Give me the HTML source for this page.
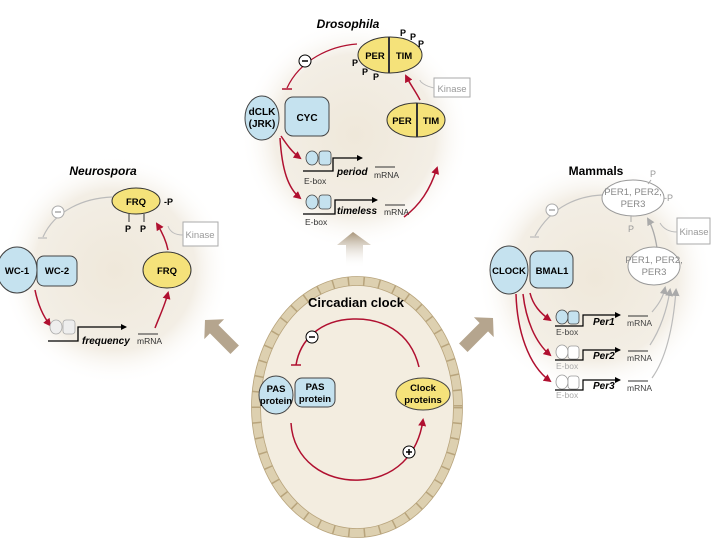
<!DOCTYPE html>
<html><head><meta charset="utf-8"><style>
html,body{margin:0;padding:0;background:#fff}
svg{display:block}
text{font-family:"Liberation Sans",Arial,sans-serif}
</style></head><body>
<svg width="720" height="540" viewBox="0 0 720 540" xmlns="http://www.w3.org/2000/svg">
<defs>
<radialGradient id="glow"><stop offset="0" stop-color="#efe8da"/><stop offset="0.7" stop-color="#f3eee5"/><stop offset="1" stop-color="#ffffff" stop-opacity="0"/></radialGradient>
<linearGradient id="au" x1="0" y1="0" x2="0" y2="1"><stop offset="0" stop-color="#a8957a"/><stop offset="1" stop-color="#fff" stop-opacity="0"/></linearGradient>
<marker id="rh" markerWidth="8" markerHeight="8" refX="6" refY="4" orient="auto" markerUnits="userSpaceOnUse"><path d="M0,0 L8,4 L0,8 z" fill="#b01030"/></marker>
<marker id="gh" markerWidth="8" markerHeight="8" refX="6" refY="4" orient="auto" markerUnits="userSpaceOnUse"><path d="M0,0 L8,4 L0,8 z" fill="#aaa"/></marker>
<marker id="kh" markerWidth="6" markerHeight="6" refX="5" refY="3" orient="auto" markerUnits="userSpaceOnUse"><path d="M0,0 L6,3 L0,6 z" fill="#000"/></marker>
</defs>

<circle cx="355" cy="135" r="115" fill="url(#glow)"/>
<circle cx="115" cy="270" r="115" fill="url(#glow)"/>
<circle cx="595" cy="278" r="118" fill="url(#glow)"/>

<path d="M346,268 L346,245 L337,245 L353,232 L371,245 L363,245 L363,268 z" fill="url(#au)"/>
<g transform="translate(205,320) rotate(-45)"><path d="M0,0 L14,13 L6,13 L6,42 L-6,42 L-6,13 L-14,13 z" fill="#a8957a" opacity="0.85"/></g>
<g transform="translate(493,318) rotate(45)"><path d="M0,0 L14,13 L6,13 L6,42 L-6,42 L-6,13 L-14,13 z" fill="#a8957a" opacity="0.85"/></g>

<ellipse cx="357" cy="407" rx="101" ry="126" fill="#f3ede0" stroke="#ddd0b0" stroke-width="9"/>
<ellipse cx="357" cy="407" rx="101" ry="126" fill="none" stroke="#b8a47c" stroke-width="9" stroke-dasharray="1.5 14"/>
<ellipse cx="357" cy="407" rx="96.5" ry="121.5" fill="none" stroke="#b8a47c" stroke-width="0.8"/>
<ellipse cx="357" cy="407" rx="105.5" ry="130.5" fill="none" stroke="#b8a47c" stroke-width="0.8"/>
<text x="356" y="307" font-size="13" font-weight="bold" text-anchor="middle">Circadian clock</text>
<path d="M419,367 C410,330 380,318 353,319 C320,320 300,340 296,365" fill="none" stroke="#b01030" stroke-width="1.5"/>
<line x1="291" y1="365" x2="301" y2="365" stroke="#b01030" stroke-width="1.5"/>
<circle cx="312" cy="337" r="6" fill="#fff" stroke="#000"/><line x1="309" y1="337" x2="315" y2="337" stroke="#000" stroke-width="1.5"/>
<path d="M291,423 C293,460 325,482 360,480 C395,478 418,455 423,420" fill="none" stroke="#b01030" stroke-width="1.5" marker-end="url(#rh)"/>
<circle cx="409" cy="452" r="6" fill="#fff" stroke="#000"/><path d="M406,452 h6 M409,449 v6" stroke="#000" stroke-width="1.5"/>
<rect x="295" y="378" width="40" height="29" rx="7" fill="#c5e2ef" stroke="#444"/>
<ellipse cx="276" cy="395" rx="17" ry="19" fill="#c5e2ef" stroke="#444"/>
<text x="276" y="392" font-size="9.5" font-weight="bold" text-anchor="middle">PAS</text><text x="276" y="404" font-size="9.5" font-weight="bold" text-anchor="middle">protein</text>
<text x="315" y="390" font-size="9.5" font-weight="bold" text-anchor="middle">PAS</text><text x="315" y="402" font-size="9.5" font-weight="bold" text-anchor="middle">protein</text>
<ellipse cx="423" cy="394" rx="27" ry="16" fill="#f5e27a" stroke="#444"/>
<text x="423" y="391" font-size="9.5" font-weight="bold" text-anchor="middle">Clock</text><text x="423" y="403" font-size="9.5" font-weight="bold" text-anchor="middle">proteins</text>

<text x="348" y="28" font-size="12" font-weight="bold" font-style="italic" text-anchor="middle">Drosophila</text>
<path d="M357,44 C330,46 300,60 287,88" fill="none" stroke="#b01030" stroke-width="1.3"/>
<line x1="282" y1="89" x2="292" y2="89" stroke="#b01030" stroke-width="1.5"/>
<circle cx="305" cy="61" r="6" fill="#fff" stroke="#000"/><line x1="302" y1="61" x2="308" y2="61" stroke="#000" stroke-width="1.5"/>
<ellipse cx="390" cy="55" rx="32" ry="18" fill="#f5e27a" stroke="#333"/><line x1="389" y1="37" x2="389" y2="73" stroke="#333" stroke-width="2"/>
<text x="375" y="59" font-size="9.5" font-weight="bold" text-anchor="middle">PER</text><text x="404" y="59" font-size="9.5" font-weight="bold" text-anchor="middle">TIM</text>
<g font-size="9" font-weight="bold"><text x="400" y="36">P</text><text x="410" y="40">P</text><text x="418" y="47">P</text><text x="352" y="66">P</text><text x="362" y="75">P</text><text x="373" y="80">P</text></g>
<rect x="434" y="78" width="36" height="19" fill="#fff" stroke="#aaa"/><text x="452" y="92" font-size="9.5" fill="#999" text-anchor="middle">Kinase</text>
<path d="M434,88 C425,86 420,82 420,80" fill="none" stroke="#bbb"/>
<path d="M420,100 C416,92 410,84 406,76" fill="none" stroke="#b01030" stroke-width="1.5" marker-end="url(#rh)"/>
<rect x="285" y="97" width="44" height="39" rx="8" fill="#c5e2ef" stroke="#444"/>
<ellipse cx="262" cy="118" rx="17" ry="22" fill="#c5e2ef" stroke="#444"/>
<text x="262" y="115" font-size="10" font-weight="bold" text-anchor="middle">dCLK</text><text x="262" y="127" font-size="10" font-weight="bold" text-anchor="middle">(JRK)</text>
<text x="307" y="121" font-size="10" font-weight="bold" text-anchor="middle">CYC</text>
<ellipse cx="416" cy="120" rx="29" ry="17" fill="#f5e27a" stroke="#333"/><line x1="417" y1="103" x2="417" y2="137" stroke="#333" stroke-width="2"/>
<text x="402" y="124" font-size="9.5" font-weight="bold" text-anchor="middle">PER</text><text x="431" y="124" font-size="9.5" font-weight="bold" text-anchor="middle">TIM</text>
<path d="M281,136 C287,145 292,152 300,158" fill="none" stroke="#b01030" stroke-width="1.5" marker-end="url(#rh)"/>
<path d="M280,138 C282,170 288,188 300,198" fill="none" stroke="#b01030" stroke-width="1.5" marker-end="url(#rh)"/>
<path d="M404,217 C420,205 430,190 437,168" fill="none" stroke="#b01030" stroke-width="1.5" marker-end="url(#rh)"/>
<g fill="#c5e2ef" stroke="#444" stroke-width="0.8"><ellipse cx="312" cy="158" rx="6" ry="7"/><rect x="319" y="151" width="12" height="14" rx="3"/>
<ellipse cx="312" cy="202" rx="6" ry="7"/><rect x="319" y="195" width="12" height="14" rx="3"/></g>
<path d="M303,171 H333 V158 H362" fill="none" stroke="#000" stroke-width="1.3" marker-end="url(#kh)"/>
<path d="M303,214 H335 V200 H377" fill="none" stroke="#000" stroke-width="1.3" marker-end="url(#kh)"/>
<text x="337" y="175" font-size="10" font-weight="bold" font-style="italic">period</text>
<text x="337" y="214" font-size="10" font-weight="bold" font-style="italic">timeless</text>
<g font-size="8.5" fill="#333"><text x="374" y="178">mRNA</text><text x="384" y="215">mRNA</text><text x="304" y="184">E-box</text><text x="305" y="225">E-box</text></g>
<g stroke="#333"><line x1="375" y1="167" x2="395" y2="167"/><line x1="385" y1="205" x2="405" y2="205"/></g>

<text x="103" y="175" font-size="12" font-weight="bold" font-style="italic" text-anchor="middle">Neurospora</text>
<path d="M112,197 C85,198 55,210 43,237" fill="none" stroke="#bbb" stroke-width="1.2"/>
<line x1="38" y1="238" x2="47" y2="238" stroke="#bbb" stroke-width="1.2"/>
<circle cx="58" cy="212" r="6" fill="#fff" stroke="#aaa"/><line x1="55" y1="212" x2="61" y2="212" stroke="#aaa" stroke-width="1.5"/>
<ellipse cx="136" cy="201" rx="24" ry="13" fill="#f5e27a" stroke="#333"/><text x="136" y="205" font-size="9.5" font-weight="bold" text-anchor="middle">FRQ</text>
<g font-size="9" font-weight="bold"><text x="164" y="205">-P</text><text x="125" y="232">P</text><text x="140" y="232">P</text></g>
<g stroke="#333"><line x1="129" y1="214" x2="129" y2="222"/><line x1="144" y1="214" x2="144" y2="222"/></g>
<rect x="183" y="222" width="35" height="24" fill="#fff" stroke="#aaa"/><text x="200" y="238" font-size="9.5" fill="#999" text-anchor="middle">Kinase</text>
<path d="M183,235 C175,235 170,232 168,226" fill="none" stroke="#bbb"/>
<path d="M168,250 C166,240 162,232 157,224" fill="none" stroke="#b01030" stroke-width="1.5" marker-end="url(#rh)"/>
<rect x="37" y="256" width="40" height="30" rx="7" fill="#c5e2ef" stroke="#444"/>
<ellipse cx="17" cy="270" rx="20" ry="23" fill="#c5e2ef" stroke="#444"/>
<text x="17" y="274" font-size="9.5" font-weight="bold" text-anchor="middle">WC-1</text><text x="57" y="274" font-size="9.5" font-weight="bold" text-anchor="middle">WC-2</text>
<ellipse cx="167" cy="270" rx="24" ry="18" fill="#f5e27a" stroke="#333"/><text x="167" y="274" font-size="9.5" font-weight="bold" text-anchor="middle">FRQ</text>
<path d="M35,290 C38,305 43,316 50,325" fill="none" stroke="#b01030" stroke-width="1.5" marker-end="url(#rh)"/>
<path d="M155,328 C160,315 165,305 168,293" fill="none" stroke="#b01030" stroke-width="1.5" marker-end="url(#rh)"/>
<g fill="#eee" stroke="#aaa" stroke-width="0.8"><ellipse cx="56" cy="327" rx="6" ry="7"/><rect x="63" y="320" width="12" height="14" rx="3"/></g>
<path d="M48,341 H78 V327 H126" fill="none" stroke="#000" stroke-width="1.3" marker-end="url(#kh)"/>
<text x="82" y="344" font-size="10" font-weight="bold" font-style="italic">frequency</text>
<text x="137" y="344" font-size="8.5" fill="#333">mRNA</text><line x1="138" y1="334" x2="158" y2="334" stroke="#333"/>

<text x="596" y="175" font-size="12" font-weight="bold" text-anchor="middle">Mammals</text>
<path d="M602,195 C580,196 552,205 535,236" fill="none" stroke="#bbb" stroke-width="1.2"/>
<line x1="530" y1="237" x2="539" y2="237" stroke="#bbb" stroke-width="1.2"/>
<circle cx="552" cy="210" r="6" fill="#fff" stroke="#aaa"/><line x1="549" y1="210" x2="555" y2="210" stroke="#aaa" stroke-width="1.5"/>
<ellipse cx="633" cy="198" rx="31" ry="18" fill="#fff" stroke="#999"/>
<text x="633" y="195" font-size="9.5" fill="#888" text-anchor="middle">PER1, PER2,</text><text x="633" y="207" font-size="9.5" fill="#888" text-anchor="middle">PER3</text>
<g font-size="9" fill="#999"><text x="650" y="177">P</text><text x="664" y="201">-P</text><text x="628" y="232">P</text></g>
<g stroke="#aaa"><line x1="651" y1="180" x2="648" y2="184"/><line x1="631" y1="216" x2="631" y2="222"/></g>
<rect x="677" y="218" width="33" height="26" fill="#fff" stroke="#aaa"/><text x="694" y="235" font-size="9.5" fill="#999" text-anchor="middle">Kinase</text>
<path d="M677,232 C668,232 663,228 660,223" fill="none" stroke="#bbb"/>
<path d="M657,248 C655,235 652,226 648,219" fill="none" stroke="#aaa" stroke-width="1.3" marker-end="url(#gh)"/>
<rect x="530" y="251" width="43" height="37" rx="8" fill="#c5e2ef" stroke="#444"/>
<ellipse cx="509" cy="270" rx="19" ry="24" fill="#c5e2ef" stroke="#444"/>
<text x="509" y="274" font-size="9.5" font-weight="bold" text-anchor="middle">CLOCK</text><text x="552" y="274" font-size="9.5" font-weight="bold" text-anchor="middle">BMAL1</text>
<ellipse cx="654" cy="266" rx="26" ry="19" fill="#fff" stroke="#999"/>
<text x="654" y="263" font-size="9.5" fill="#888" text-anchor="middle">PER1, PER2,</text><text x="654" y="275" font-size="9.5" fill="#888" text-anchor="middle">PER3</text>
<path d="M530,293 C533,305 540,313 550,320" fill="none" stroke="#b01030" stroke-width="1.5" marker-end="url(#rh)"/>
<path d="M523,294 C526,320 535,342 550,355" fill="none" stroke="#b01030" stroke-width="1.5" marker-end="url(#rh)"/>
<path d="M516,294 C517,330 528,365 550,381" fill="none" stroke="#b01030" stroke-width="1.5" marker-end="url(#rh)"/>
<g fill="#c5e2ef" stroke="#444" stroke-width="0.8"><ellipse cx="562" cy="317" rx="6" ry="7"/><rect x="568" y="311" width="11" height="13" rx="3"/></g>
<g fill="#fff" stroke="#999" stroke-width="0.8"><ellipse cx="562" cy="352" rx="6" ry="7"/><rect x="568" y="346" width="11" height="13" rx="3"/>
<ellipse cx="562" cy="382" rx="6" ry="7"/><rect x="568" y="376" width="11" height="13" rx="3"/></g>
<path d="M555,326 H583 V315 H620" fill="none" stroke="#000" stroke-width="1.2" marker-end="url(#kh)"/>
<path d="M555,360 H583 V350 H620" fill="none" stroke="#000" stroke-width="1.2" marker-end="url(#kh)"/>
<path d="M555,390 H583 V380 H620" fill="none" stroke="#000" stroke-width="1.2" marker-end="url(#kh)"/>
<g font-size="10" font-weight="bold" font-style="italic"><text x="593" y="325">Per1</text><text x="593" y="359">Per2</text><text x="593" y="389">Per3</text></g>
<g font-size="8.5" fill="#444"><text x="627" y="326">mRNA</text><text x="627" y="361">mRNA</text><text x="627" y="391">mRNA</text></g>
<g stroke="#333"><line x1="628" y1="316" x2="648" y2="316"/><line x1="628" y1="351" x2="648" y2="351"/><line x1="628" y1="381" x2="648" y2="381"/></g>
<g font-size="8.5"><text x="556" y="335" fill="#444">E-box</text><text x="556" y="369" fill="#aaa">E-box</text><text x="556" y="398" fill="#aaa">E-box</text></g>
<g fill="none" stroke="#bbb" stroke-width="1.2"><path d="M652,312 C658,305 663,298 665,288" marker-end="url(#gh)"/>
<path d="M650,345 C660,330 667,310 670,290" marker-end="url(#gh)"/>
<path d="M652,378 C665,360 673,330 676,290" marker-end="url(#gh)"/></g>
</svg>
</body></html>
